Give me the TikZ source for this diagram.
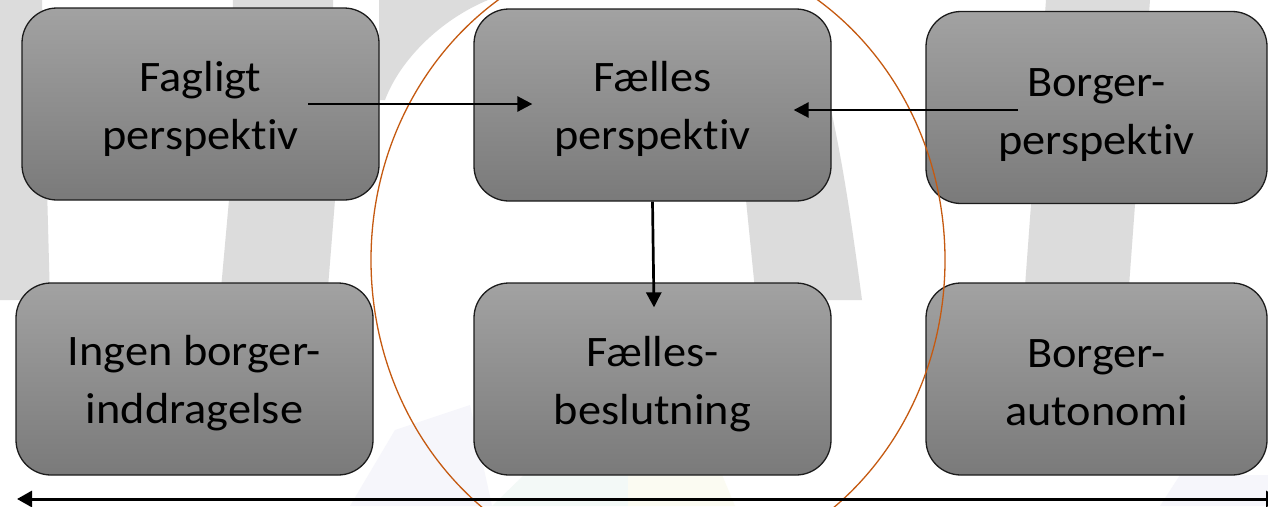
\documentclass[tikz,border=0pt]{standalone}
\usepackage{fontspec}
\setmainfont{Carlito}[Ligatures=NoCommon, RawFeature={-calt}]
\usetikzlibrary{arrows.meta,calc}

\definecolor{boxtop}{RGB}{162,162,162}
\definecolor{boxbot}{RGB}{122,122,122}
\definecolor{boxline}{RGB}{28,28,28}
\definecolor{ringc}{RGB}{197,90,17}
\definecolor{wmgray}{RGB}{220,220,220}
\definecolor{wmlav}{RGB}{246,246,251}
\definecolor{wmgreen}{RGB}{243,249,247}
\definecolor{wmyellow}{RGB}{251,251,242}

% keep t and i apart in "perspektiv"
\newcommand{\perspword}{perspekt\kern0pt iv}

\begin{document}
\begin{tikzpicture}[x=1pt,y=-1pt,
  stagebox/.style={draw=boxline, line width=1.3pt, rounded corners=35pt,
    top color=boxtop, bottom color=boxbot, minimum height=192pt, inner sep=0pt},
  widebox/.style={stagebox, minimum width=357pt},
  narrowbox/.style={stagebox, minimum width=341pt},
  boxtext/.style={font=\fontsize{43.5}{58}\selectfont, align=center, inner sep=0pt,
    anchor=base, xscale=1.065, transform shape},
  arr/.style={line width=2.7pt, -{Triangle[length=15pt,width=15pt]}},
  axis/.style={line width=3pt, {Triangle[length=15pt,width=16pt]}-{Triangle[length=15pt,width=16pt]}},
  ring/.style={draw=ringc, line width=1.3pt},
  wm/.style={fill=wmgray, draw=none}]

\useasboundingbox (0,0) rectangle (1268,506);
\clip (0,0) rectangle (1268,506);
\fill[white] (0,0) rectangle (1268,506);

% faint watermark strokes in the background
\fill[wm] (0,0) -- (42,0) -- (50,300) -- (0,300) -- cycle;
\fill[wm] (233,0) -- (333,0) -- (335,200) -- (327,300) -- (220,300) -- (229,200) -- cycle;
\fill[wm] (379,0) -- (488,0) .. controls (440,20) and (400,60) .. (385,100) -- (379,100) -- cycle;
\fill[wm] (735,110) -- (830,105) .. controls (842,160) and (850,210) .. (862,300) -- (756,300) -- (746,200) -- cycle;
\fill[wm] (1046,0) -- (1150,0) -- (1128,300) -- (1024,300) -- cycle;
\fill[wmlav] (350,506) -- (395,430) -- (470,405) -- (492,506) -- cycle;
\fill[wmgreen] (492,506) -- (560,440) -- (628,430) -- (628,506) -- cycle;
\fill[wmyellow] (628,506) -- (628,470) -- (720,470) -- (735,506) -- cycle;
\fill[wmlav] (1180,475) -- (1268,475) -- (1268,506) -- (1160,506) -- cycle;

% the six stages
\node[widebox]   (b1) at (200.5,104) {};
\node[widebox]   (b2) at (652.5,105) {};
\node[narrowbox] (b3) at (1096.5,107.5) {};
\node[widebox]   (b4) at (194.5,379) {};
\node[widebox]   (b5) at (652.5,379) {};
\node[narrowbox] (b6) at (1096.5,379) {};

\node[boxtext] (t1) at ($(b1.center)+(0,45)$) {Fagligt\\\perspword};
\node[boxtext] (t2) at ($(b2.center)+(0,44)$) {Fælles\\\perspword};
\node[boxtext] (t3) at ($(b3.center)+(0,46.5)$) {Borger-\\\perspword};
\node[boxtext] (t4) at ($(b4.center)+(0,44)$) {Ingen borger-\\inddragelse};
\node[boxtext] (t5) at ($(b5.center)+(0,45)$) {Fælles-\\beslutning};
\node[boxtext] (t6) at ($(b6.center)+(0,46)$) {Borger-\\autonomi};

% ring around the shared column
\draw[ring] (658,260) ellipse [x radius=287pt, y radius=313pt];

% connectors
\coordinate (a1) at ($(b1.center)+(107.5,0)$);
\draw[arr] (a1) -- ($(a1 -| b2.west)+(59,0)$);
\coordinate (a2) at ($(b3.center)+(-78.5,2.5)$);
\draw[arr] (a2) -- ($(a2 -| b2.east)+(-38,0)$);
\draw[arr] (b2.south) -- ($(b5.north)+(1.5,25)$);

\coordinate (axl) at (17,499);
\coordinate (axr) at (1281,499);
\draw[axis] (axl) -- (axr);
\end{tikzpicture}
\end{document}
